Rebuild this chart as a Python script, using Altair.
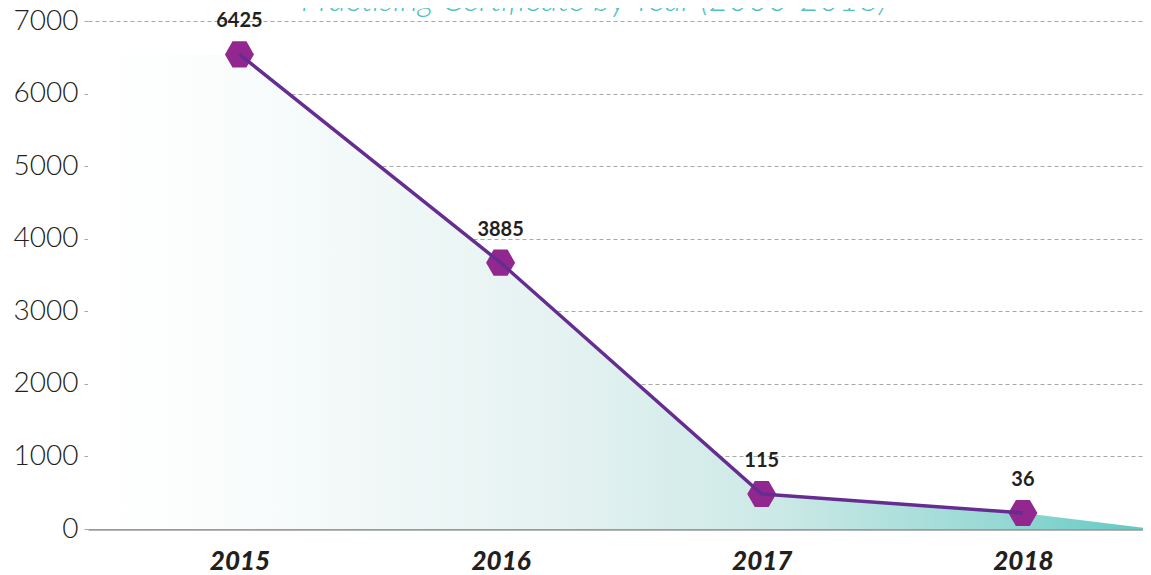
import altair as alt
import pandas as pd

# ---- data ----
years = [2015, 2016, 2017, 2018]
plotted_values = [6540, 3670, 483, 221]      # where the markers sit on the y scale
value_labels = ["6425", "3885", "115", "36"]  # numbers printed above the markers
y_ticks = [0, 1000, 2000, 3000, 4000, 5000, 6000, 7000]
y_domain = [0, 7000]
x_domain = [2014.42, 2018.46]
area_end_year = 2018.5
title_text = "Practising Certificate by Year (2000-2018)"

points_df = pd.DataFrame({"year": years, "value": plotted_values, "label": value_labels})
area_df = pd.DataFrame({
    "year": [x_domain[0]] + years + [area_end_year],
    "value": [plotted_values[0]] + plotted_values + [0],
})
title_df = pd.DataFrame({"t": [title_text]})

PLOT_W = 1055
PLOT_H = 508

x_scale = alt.Scale(domain=x_domain, nice=False, zero=False)
y_scale = alt.Scale(domain=y_domain, nice=False)

x_enc = alt.X(
    "year:Q", scale=x_scale,
    axis=alt.Axis(
        title=None, values=years, format="d", ticks=False, grid=False,
        domain=True, domainColor="#9b9b9b", domainWidth=2.5,
        labelFont="Lato", labelFontSize=26, labelFontWeight=900,
        labelFontStyle="italic", labelColor="#231f20", labelPadding=19,
        labelFlush=False,
    ),
)
y_enc = alt.Y(
    "value:Q", scale=y_scale,
    axis=alt.Axis(
        title=None, values=y_ticks, format="d", domain=False,
        grid=True, gridColor="#a8a8a8", gridDash=[4, 3], gridWidth=1,
        ticks=True, tickSize=4, tickColor="#a8a8a8",
        labelFont="Lato", labelFontSize=28, labelFontWeight=300,
        labelColor="#231f20", labelPadding=6, labelFlush=False,
    ),
)

gradient = alt.LinearGradient(
    gradient="linear", x1=0, x2=1, y1=0, y2=0,
    stops=[
        alt.GradientStop(offset=0.0, color="#ffffff"),
        alt.GradientStop(offset=0.12, color="#fbfdfd"),
        alt.GradientStop(offset=0.45, color="#e4f2f1"),
        alt.GradientStop(offset=0.65, color="#cbe9e6"),
        alt.GradientStop(offset=0.85, color="#98d9d5"),
        alt.GradientStop(offset=1.0, color="#5ec8c2"),
    ],
)

area = alt.Chart(area_df).mark_area(clip=True, color=gradient, line=False).encode(
    x=x_enc, y=y_enc
)

hexagon = "M -1 0 L -0.48 -0.9 L 0.48 -0.9 L 1 0 L 0.48 0.9 L -0.48 0.9 Z"
markers = alt.Chart(points_df).mark_point(
    shape=hexagon, filled=True, size=841, color="#922790", opacity=1
).encode(x=x_enc, y=y_enc)

line = alt.Chart(points_df).mark_line(color="#662d91", strokeWidth=3.5).encode(
    x=x_enc, y=y_enc
)

texts = alt.Chart(points_df).mark_text(
    dy=-33, font="Lato", fontSize=20, fontWeight="bold", color="#231f20"
).encode(x=x_enc, y=y_enc, text="label:N")

title = alt.Chart(title_df).mark_text(
    font="Lato", fontSize=34, fontWeight=300, fontStyle="italic",
    color="#4cc3be", align="center", baseline="alphabetic",
).encode(text="t:N", x=alt.value(506), y=alt.value(-10))

chart = (
    alt.layer(area, markers, line, texts, title)
    .properties(
        width=PLOT_W, height=PLOT_H,
        autosize=alt.AutoSizeParams(type="none"),
        padding={"left": 80, "top": 13, "right": 0, "bottom": 46},
    )
    .configure_view(stroke=None)
)

chart.save("out.html", embed_options={"renderer": "svg", "actions": False})
